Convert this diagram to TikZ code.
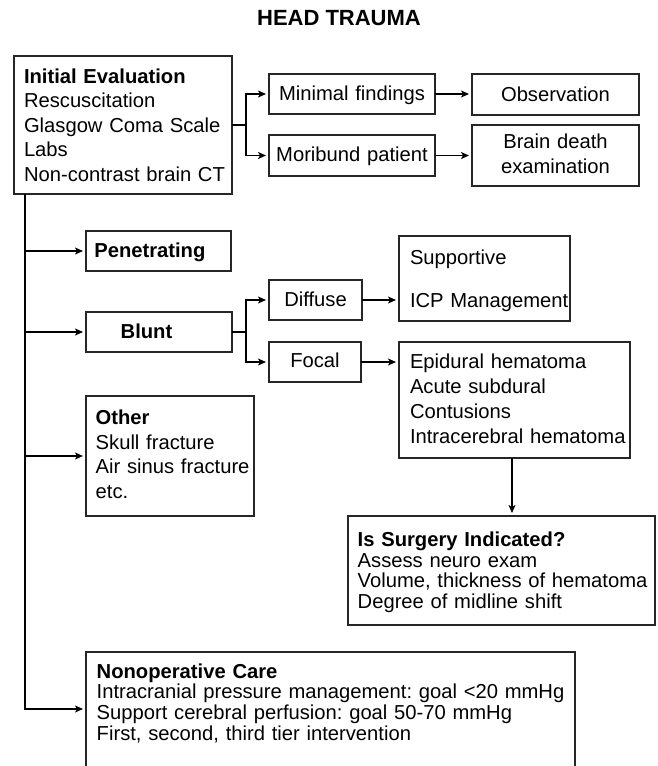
\documentclass[tikz,border=0pt]{standalone}
\usepackage{fontspec}
\setmainfont{Liberation Sans}
\usetikzlibrary{arrows.meta}

% body text size with a chosen line spacing
\newcommand\lead[1]{\fontsize{20.2}{#1}\selectfont}
% left indent of text inside a box; long lines may run into the right margin instead of wrapping
\newcommand\pad[1]{\leftskip=#1pt\relax\rightskip=0pt plus 1fil minus 30pt\relax}
% #1 name, #2-#5 corners (x1,y1,x2,y2), #6 text set-up, #7 first baseline, #8 options, #9 text
\newcommand\flowbox[9]{%
  \pgfmathsetmacro\fbTW{#4-#2}%
  \pgfmathsetmacro\fbTH{#7-#3}%
  \pgfmathsetmacro\fbTD{#5-#7}%
  \node[stepbox, #8, anchor=north west, text width=\fbTW pt,
        text height=\fbTH pt, text depth=\fbTD pt] (#1) at (#2,#3) {#6#9\par};%
}

\tikzset{
  stepbox/.style={draw=black!85, line width=1.2pt, rectangle, inner sep=0pt,
                  outer sep=0pt, text=black},
  joint/.style={line width=1.8pt, line join=miter},
  link/.style={joint, -{Stealth[length=8pt,width=7pt,inset=2pt]}, shorten >=3pt},
}

\begin{document}
\frenchspacing
\begin{tikzpicture}[x=1pt, y=-1pt]
  \clip (0,0) rectangle (657,766);

  \node[font=\bfseries\fontsize{22}{26}\selectfont, anchor=base] (title) at (339,25.2) {HEAD TRAUMA};

  % boxes
  \flowbox{ie}{14}{56}{232}{194}{\pad{10}}{83}{align=left, font=\lead{24.5}}%
    {\textbf{Initial Evaluation}\\Rescuscitation\\Glasgow Coma Scale\\Labs\\Non-contrast brain CT}
  \flowbox{minimal}{269}{74}{435}{114}{}{100.5}{align=center, font=\lead{24}}{Minimal findings}
  \flowbox{moribund}{269}{135}{435}{176}{}{161.5}{align=center, font=\lead{24}}{Moribund patient}
  \flowbox{observation}{472}{74}{639}{115}{}{101}{align=center, font=\lead{24}}{Observation}
  \flowbox{braindeath}{472}{125}{639}{186}{}{148}{align=center, font=\lead{25}}{Brain death\\examination}

  \flowbox{penetrating}{86}{231}{231}{271}{\pad{8.3}}{257.5}{align=left, font=\lead{24}}{\textbf{Penetrating}}
  \flowbox{blunt}{86}{312}{232}{352}{\pad{34.7}}{338}{align=left, font=\lead{24}}{\textbf{Blunt}}
  \flowbox{diffuse}{269}{280}{362}{320}{}{306.5}{align=center, font=\lead{24}}{Diffuse}
  \flowbox{focal}{269}{342}{361}{382}{}{367.5}{align=center, font=\lead{24}}{Focal}
  \flowbox{supportive}{399}{236}{570}{321}{\pad{11}}{264.5}{align=left, font=\lead{42.5}}%
    {Supportive\\ICP Management}
  \flowbox{epidural}{399}{342}{630}{458}{\pad{11}}{368}{align=left, font=\lead{25}}%
    {Epidural hematoma\\Acute subdural\\Contusions\\Intracerebral hematoma}
  \flowbox{other}{86}{396}{254}{516}{\pad{9.7}}{424.5}{align=left, font=\lead{24.6}}%
    {\textbf{Other}\\Skull fracture\\Air sinus fracture\\etc.}
  \flowbox{surgery}{348}{516}{655}{625}{\pad{9.7}}{546.5}{align=left, font=\lead{20.6}}%
    {\textbf{Is Surgery Indicated?}\\Assess neuro exam\\Volume, thickness of hematoma\\Degree of midline shift}
  \flowbox{nonop}{86}{652}{575}{800}{\pad{10.7}}{678}{align=left, font=\lead{20.8}}%
    {\textbf{Nonoperative Care}\\Intracranial pressure management: goal <20 mmHg\\Support cerebral perfusion: goal 50-70 mmHg\\First, second, third tier intervention}

  % branch points
  \coordinate (j1) at (246,125);
  \coordinate (j2) at (246,332);
  \coordinate (t0) at ([xshift=11pt]ie.south west);

  % initial evaluation branches
  \draw[joint] (ie.east) -- (j1);
  \draw[link] (j1) |- (minimal.west);
  \draw[link] (j1) |- (moribund.west);
  \draw[link] (minimal.east) -- (minimal.east -| observation.west);
  \draw[link] (moribund.east) -- (moribund.east -| braindeath.west);

  % main trunk
  \draw[link] (t0) |- ([yshift=-57pt]nonop.north west);
  \draw[link] (t0 |- penetrating.west) -- (penetrating.west);
  \draw[link] (t0 |- blunt.west) -- (blunt.west);
  \draw[link] (t0 |- other.west) -- (other.west);

  % blunt injury branches
  \draw[joint] (blunt.east) -- (j2);
  \draw[link] (j2) |- (diffuse.west);
  \draw[link] (j2) |- (focal.west);
  \draw[link] (diffuse.east) -- (diffuse.east -| supportive.west);
  \draw[link] (focal.east) -- (focal.east -| epidural.west);
  \draw[link] ([xshift=-2.5pt]epidural.south) -- ([xshift=-2.5pt]epidural.south |- surgery.north);
\end{tikzpicture}
\end{document}
